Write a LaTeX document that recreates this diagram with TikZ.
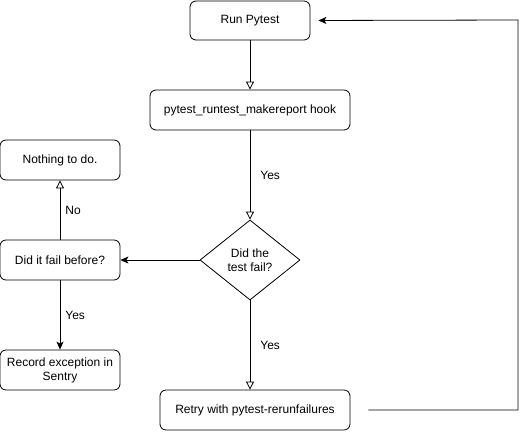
\documentclass[tikz,border=0pt]{standalone}
\usepackage{fontspec}
\setmainfont{Liberation Sans}
\usepackage{tikz}
\usetikzlibrary{arrows.meta,shapes.geometric}

\tikzset{
  stepbox/.style={draw,rounded corners=6pt,line width=0.8pt,align=center,inner sep=0pt,minimum height=40pt},
  choice/.style={draw,diamond,aspect=1.25,line width=0.8pt,align=center,inner sep=0pt,minimum width=100pt,minimum height=80pt},
  openflow/.style={line width=0.8pt,-{Triangle[open,length=8pt,width=8pt]}},
  fillflow/.style={line width=0.8pt,-{Stealth[length=8pt,width=7pt,inset=2pt]}},
  edgelabel/.style={inner sep=0pt,font=\fontsize{12}{14}\selectfont}
}

\begin{document}
\begin{tikzpicture}[x=1pt,y=-1pt,font=\fontsize{12}{14}\selectfont]
		\useasboundingbox (0,0) rectangle (526,431);
		\node[stepbox,minimum width=120pt,minimum height=39pt] (run) at (250,20.5) {Run Pytest};
		\node[stepbox,minimum width=200pt] (hook) at (250,110) {pytest\_runtest\_makereport hook};
		\node[choice] (failed) at (250,260) {Did the\\test fail?};
		\node[stepbox,minimum width=120pt] (nothing) at (60,160) {Nothing to do.};
		\node[stepbox,minimum width=120pt] (before) at (60,260) {Did it fail before?};
		\node[stepbox,minimum width=120pt] (record) at (60,370) {Record exception in\\Sentry};
		\node[stepbox,minimum width=190pt] (retry) at (255,410) {Retry with pytest-rerunfailures};
		\coordinate (loop) at (518,20);
		\draw[openflow] (run) -- (hook);
		\draw[openflow] (hook) -- node[edgelabel,midway,right=10pt] {Yes} (failed);
		\draw[openflow] (failed) -- node[edgelabel,midway,right=10pt] {Yes} (failed |- retry.north);
		\draw[fillflow] (failed) -- (before);
		\draw[openflow] (before) -- node[edgelabel,midway,right=5pt] {No} (nothing);
		\draw[fillflow] (before) -- node[edgelabel,midway,right=5pt] {Yes} (record);
		\draw[fillflow,shorten <=18pt,shorten >=8pt] (retry.east) -| (loop) -- (run.east);
	\end{tikzpicture}
\end{document}
